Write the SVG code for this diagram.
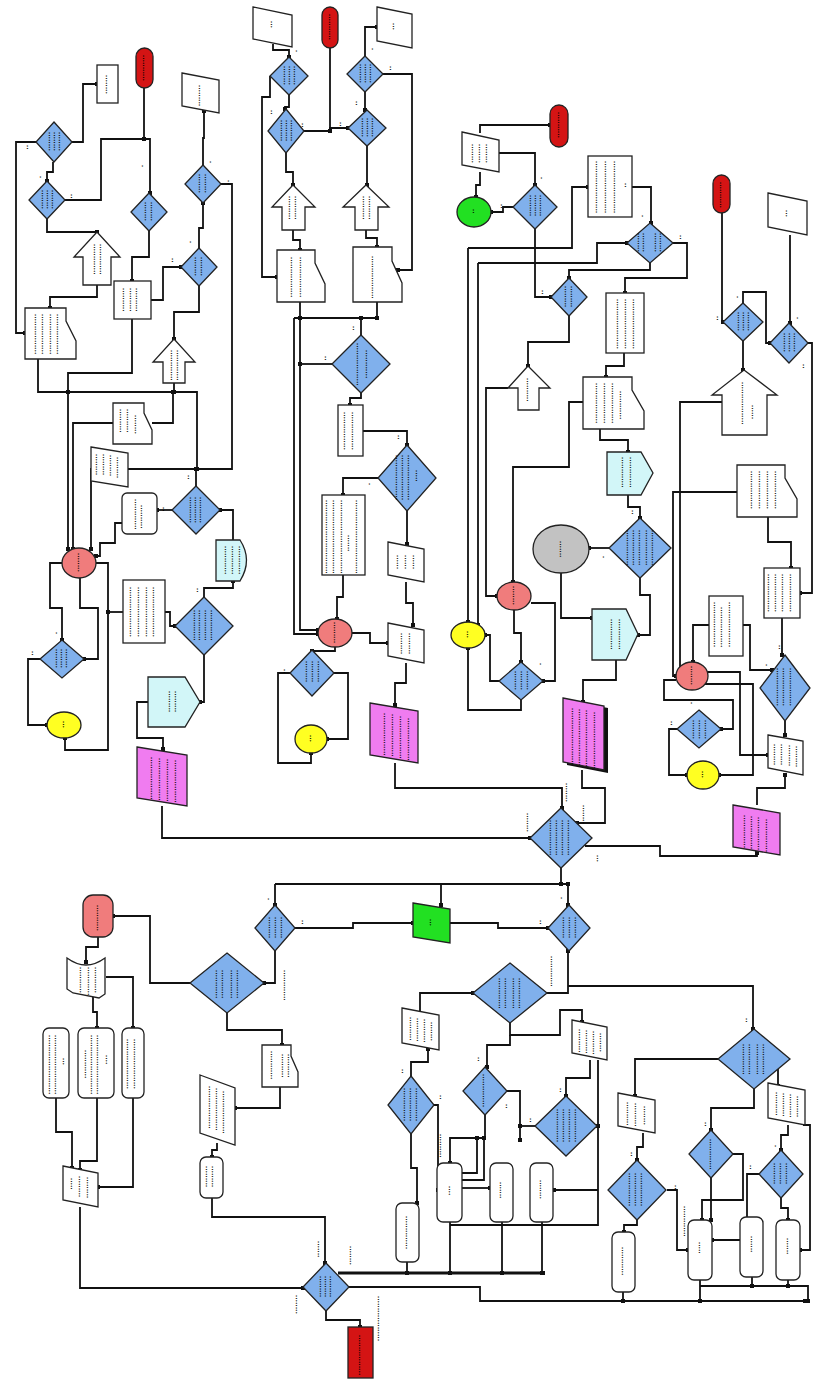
<svg xmlns="http://www.w3.org/2000/svg" width="815" height="1381" viewBox="0 0 815 1381">
<defs>
<style>
.c{fill:none;stroke:#111;stroke-width:1.8;stroke-linejoin:miter}
.k{fill:none;stroke:#111;stroke-width:3}
.n{stroke:#222;stroke-width:1.3}
.dia{fill:#80b0ec}
.w{fill:#fff}
.red{fill:#d41414}
.sal{fill:#f07c7c}
.yel{fill:#ffff22}
.grn{fill:#22e022}
.gry{fill:#c2c2c2}
.cyn{fill:#d2f6f8}
.mag{fill:#f07cf0}
.t{font-family:"Liberation Sans",Arial,sans-serif;font-size:7.5px;letter-spacing:0.3px;fill:#000;stroke:#000;stroke-width:0.3}
</style>
<marker id="m" markerWidth="4" markerHeight="4" refX="2" refY="2" markerUnits="userSpaceOnUse"><rect width="4" height="4" fill="#111"/></marker>
</defs>
<rect width="815" height="1381" fill="#fff"/>

<g id="connectors" marker-end="url(#m)">
<polyline class="c" points="72,142 83,142 83,84 97,84"/>
<polyline class="c" points="36,142 16,142 16,333 25,333"/>
<polyline class="c" points="53,162 53,172 47,172 47,181"/>
<polyline class="c" points="65,200 101,200 101,139 150,139 150,193"/>
<polyline class="c" points="144,88 144,139"/>
<polyline class="c" points="47,219 47,232 97,232"/>
<polyline class="c" points="97,285 97,297 50,297 50,308"/>
<polyline class="c" points="149,231 149,257 132,257 132,281"/>
<polyline class="c" points="151,300 163,300 163,267 181,267"/>
<polyline class="c" points="199,248 199,228 203,228 203,203"/>
<polyline class="c" points="203,165 203,138 204,138 204,111"/>
<polyline class="c" points="221,184 232,184 232,469 91,469 91,549"/>
<polyline class="c" points="199,286 199,312 174,312 174,339"/>
<polyline class="c" points="132,319 132,373 68,373 68,392"/>
<polyline class="c" points="38,359 38,392 197,392 197,469"/>
<polyline class="c" points="174,383 174,392"/>
<polyline class="c" points="152,423 173,423 173,392"/>
<polyline class="c" points="113,423 73,423 73,549"/>
<polyline class="c" points="68,392 68,549"/>
<polyline class="c" points="122,523 115,523 115,543 100,543 100,556 96,556"/>
<polyline class="c" points="96,563 108,563 108,750 65,750 65,738"/>
<polyline class="c" points="80,578 80,608 98,608 98,659 84,659"/>
<polyline class="c" points="62,563 50,563 50,608 62,608 62,640"/>
<polyline class="c" points="40,659 28,659 28,725 47,725"/>
<polyline class="c" points="123,612 108,612"/>
<polyline class="c" points="165,612 170,612 170,626 175,626"/>
<polyline class="c" points="204,597 204,588 233,588 233,581"/>
<polyline class="c" points="233,540 233,510 220,510"/>
<polyline class="c" points="172,510 157,510"/>
<polyline class="c" points="196,486 196,469"/>
<polyline class="c" points="204,655 204,702 200,702"/>
<polyline class="c" points="148,702 137,702 137,738 163,738 163,749"/>
<polyline class="c" points="162,806 162,838 530,838"/>
<polyline class="c" points="273,44 273,50 289,50 289,57"/>
<polyline class="c" points="270,76 270,97 262,97 262,277 277,277"/>
<polyline class="c" points="289,95 289,107 285,107 285,109"/>
<polyline class="c" points="304,131 330,131 330,128 348,128"/>
<polyline class="c" points="330,48 330,131"/>
<polyline class="c" points="286,153 286,172 293,172 293,185"/>
<polyline class="c" points="293,230 293,240 300,240 300,250"/>
<polyline class="c" points="300,302 300,318"/>
<polyline class="c" points="294,318 377,318"/>
<polyline class="c" points="377,302 377,318"/>
<polyline class="c" points="361,335 361,318"/>
<polyline class="c" points="332,364 300,364"/>
<polyline class="c" points="294,318 294,634 318,634"/>
<polyline class="c" points="300,318 300,630 318,630"/>
<polyline class="c" points="365,56 365,27 377,27"/>
<polyline class="c" points="383,74 412,74 412,270 398,270"/>
<polyline class="c" points="365,92 365,110"/>
<polyline class="c" points="367,146 367,185"/>
<polyline class="c" points="366,230 366,238 377,238 377,247"/>
<polyline class="c" points="361,393 361,398 350,398 350,405"/>
<polyline class="c" points="363,431 407,431 407,445"/>
<polyline class="c" points="378,478 343,478 343,495"/>
<polyline class="c" points="407,511 407,544"/>
<polyline class="c" points="406,582 406,603 413,603 413,625"/>
<polyline class="c" points="343,575 343,597 337,597 337,619"/>
<polyline class="c" points="352,633 370,633 370,643 388,643"/>
<polyline class="c" points="335,647 335,651 312,651"/>
<polyline class="c" points="290,673 278,673 278,763 311,763 311,753"/>
<polyline class="c" points="334,673 348,673 348,739 327,739"/>
<polyline class="c" points="406,663 406,683 395,683 395,705"/>
<polyline class="c" points="395,763 395,788 562,788 562,808"/>
<polyline class="c" points="480,133 480,125 550,125"/>
<polyline class="c" points="499,153 535,153 535,185"/>
<polyline class="c" points="480,172 480,185 476,185 476,197"/>
<polyline class="c" points="513,207 503,207 503,212 491,212"/>
<polyline class="c" points="535,229 535,297 551,297"/>
<polyline class="c" points="468,248 572,248 572,187 588,187"/>
<polyline class="c" points="468,248 468,622"/>
<polyline class="c" points="478,263 597,263 597,243 627,243"/>
<polyline class="c" points="478,263 478,625"/>
<polyline class="c" points="632,187 651,187 651,223"/>
<polyline class="c" points="673,243 687,243 687,278 625,278 625,293"/>
<polyline class="c" points="650,263 650,270 569,270 569,278"/>
<polyline class="c" points="569,316 569,342 528,342 528,366"/>
<polyline class="c" points="508,388 486,388 486,596 497,596"/>
<polyline class="c" points="624,353 624,366 606,366 606,377"/>
<polyline class="c" points="583,402 569,402 569,467 513,467 513,582"/>
<polyline class="c" points="600,429 600,440 628,440 628,452"/>
<polyline class="c" points="628,495 628,507 640,507 640,518"/>
<polyline class="c" points="609,548 589,548"/>
<polyline class="c" points="640,578 640,595 650,595 650,635 638,635"/>
<polyline class="c" points="561,573 561,618 592,618"/>
<polyline class="c" points="616,660 616,680 583,680 583,702"/>
<polyline class="c" points="531,603 555,603 555,681 543,681"/>
<polyline class="c" points="514,610 514,633 521,633 521,662"/>
<polyline class="c" points="499,681 490,681 490,635 485,635"/>
<polyline class="c" points="521,700 521,710 468,710 468,648"/>
<polyline class="c" points="582,770 582,788 605,788 605,823 577,823"/>
<polyline class="c" points="722,213 722,322 723,322"/>
<polyline class="c" points="743,303 743,292 766,292 766,343 770,343"/>
<polyline class="c" points="790,235 790,323"/>
<polyline class="c" points="808,343 812,343 812,593 800,593"/>
<polyline class="c" points="743,341 743,370"/>
<polyline class="c" points="722,402 680,402 680,676"/>
<polyline class="c" points="737,492 673,492 673,676 676,676"/>
<polyline class="c" points="768,517 768,542 791,542 791,568"/>
<polyline class="c" points="782,618 782,655"/>
<polyline class="c" points="709,625 693,625 693,662"/>
<polyline class="c" points="743,625 750,625 750,670 772,670"/>
<polyline class="c" points="707,672 740,672 740,755 768,755"/>
<polyline class="c" points="705,684 753,684 753,775 719,775"/>
<polyline class="c" points="676,680 664,680 664,700 733,700 733,729 721,729"/>
<polyline class="c" points="677,729 669,729 669,775 687,775"/>
<polyline class="c" points="785,721 785,735"/>
<polyline class="c" points="757,805 757,788 785,788 785,775"/>
<polyline class="c" points="585,846 660,846 660,856 757,856 757,853"/>
<polyline class="c" points="561,868 561,884"/>
<polyline class="c" points="275,884 568,884"/>
<polyline class="c" points="275,884 275,905"/>
<polyline class="c" points="441,884 441,905"/>
<polyline class="c" points="568,884 568,905"/>
<polyline class="c" points="295,928 353,928 353,923 413,923"/>
<polyline class="c" points="450,923 498,923 498,928 548,928"/>
<polyline class="c" points="275,951 275,983 264,983"/>
<polyline class="c" points="190,983 150,983 150,916 113,916"/>
<polyline class="c" points="227,1013 227,1030 282,1030 282,1045"/>
<polyline class="c" points="280,1087 280,1108 235,1108"/>
<polyline class="c" points="217,1143 217,1150 212,1150 212,1157"/>
<polyline class="c" points="212,1198 212,1217 325,1217 325,1263"/>
<polyline class="c" points="98,937 98,947 86,947 86,962"/>
<polyline class="c" points="106,977 133,977 133,1028"/>
<polyline class="c" points="93,997 93,1012 97,1012 97,1028"/>
<polyline class="c" points="56,1098 56,1132 72,1132 72,1168"/>
<polyline class="c" points="97,1098 97,1161 80,1161 80,1170"/>
<polyline class="c" points="133,1098 133,1187 98,1187"/>
<polyline class="c" points="80,1207 80,1288 303,1288"/>
<polyline class="c" points="326,1311 326,1320 360,1320 360,1327"/>
<polyline class="c" points="349,1287 480,1287 480,1301 805,1301"/>
<polyline class="k" points="338,1273 543,1273"/>
<polyline class="c" points="407,1262 407,1273"/>
<polyline class="c" points="450,1222 450,1273"/>
<polyline class="c" points="502,1222 502,1273"/>
<polyline class="c" points="542,1222 542,1273"/>
<polyline class="c" points="450,1225 598,1225 598,1126 597,1126"/>
<polyline class="c" points="598,1060 598,1126"/>
<polyline class="c" points="598,1190 554,1190"/>
<polyline class="c" points="411,1134 411,1168 417,1168 417,1203"/>
<polyline class="c" points="411,1076 411,1062 428,1062 428,1049"/>
<polyline class="c" points="420,1011 420,993 473,993"/>
<polyline class="c" points="547,993 568,993 568,951"/>
<polyline class="c" points="568,986 753,986 753,1029"/>
<polyline class="c" points="510,1023 510,1035 560,1035 560,1010 582,1010 582,1022"/>
<polyline class="c" points="510,1035 510,1045 487,1045 487,1067"/>
<polyline class="c" points="590,1060 590,1078 566,1078 566,1096"/>
<polyline class="c" points="507,1091 520,1091 520,1140"/>
<polyline class="c" points="485,1115 485,1138 450,1138 450,1163"/>
<polyline class="c" points="535,1126 520,1126"/>
<polyline class="c" points="462,1173 477,1173 477,1138"/>
<polyline class="c" points="462,1180 484,1180 484,1138"/>
<polyline class="c" points="462,1188 490,1188"/>
<polyline class="c" points="434,1105 438,1105 438,1190"/>
<polyline class="c" points="718,1059 635,1059 635,1096"/>
<polyline class="c" points="790,1059 778,1059 778,1086"/>
<polyline class="c" points="754,1089 754,1108 711,1108 711,1130"/>
<polyline class="c" points="643,1133 643,1147 637,1147 637,1160"/>
<polyline class="c" points="637,1220 637,1225 624,1225 624,1232"/>
<polyline class="c" points="667,1190 677,1190 677,1250 688,1250"/>
<polyline class="c" points="623,1292 623,1301"/>
<polyline class="c" points="733,1154 743,1154 743,1200 702,1200 702,1220"/>
<polyline class="c" points="711,1178 711,1220"/>
<polyline class="c" points="759,1174 747,1174 747,1240 712,1240"/>
<polyline class="c" points="788,1125 788,1135 781,1135 781,1150"/>
<polyline class="c" points="803,1125 810,1125 810,1250 800,1250"/>
<polyline class="c" points="781,1198 781,1208 788,1208 788,1220"/>
<polyline class="c" points="700,1280 700,1301"/>
<polyline class="c" points="700,1286 808,1286 808,1301"/>
<polyline class="c" points="752,1277 752,1286"/>
<polyline class="c" points="788,1280 788,1286"/>
</g>

<g id="d1"><polygon class="n dia" points="54,122 72,142 54,162 36,142"/><text class="t" transform="translate(49 132) rotate(90)">........</text><text class="t" transform="translate(54 132) rotate(90)">........</text><text class="t" transform="translate(59 132) rotate(90)">........</text></g>
<g id="d2"><polygon class="n dia" points="47,181 65,200 47,219 29,200"/><text class="t" transform="translate(42 190) rotate(90)">........</text><text class="t" transform="translate(47 190) rotate(90)">........</text><text class="t" transform="translate(52 190) rotate(90)">........</text></g>
<g id="d3"><polygon class="n dia" points="149,193 167,212 149,231 131,212"/><text class="t" transform="translate(145 202) rotate(90)">........</text><text class="t" transform="translate(151 202) rotate(90)">........</text></g>
<g id="d4"><polygon class="n dia" points="203,165 221,184 203,203 185,184"/><text class="t" transform="translate(199 174) rotate(90)">........</text><text class="t" transform="translate(205 174) rotate(90)">........</text></g>
<g id="d5"><polygon class="n dia" points="199,248 217,267 199,286 181,267"/><text class="t" transform="translate(195 257) rotate(90)">........</text><text class="t" transform="translate(201 257) rotate(90)">........</text></g>
<g id="d6"><polygon class="n dia" points="196,486 220,510 196,534 172,510"/><text class="t" transform="translate(190 497) rotate(90)">...........</text><text class="t" transform="translate(195 497) rotate(90)">...........</text><text class="t" transform="translate(200 497) rotate(90)">...........</text></g>
<g id="d7"><polygon class="n dia" points="204,597 233,626 204,655 175,626"/><text class="t" transform="translate(194 610) rotate(90)">.............</text><text class="t" transform="translate(199 610) rotate(90)">.............</text><text class="t" transform="translate(205 610) rotate(90)">.............</text><text class="t" transform="translate(211 610) rotate(90)">.............</text></g>
<g id="d8"><polygon class="n dia" points="62,640 84,659 62,678 40,659"/><text class="t" transform="translate(56 649) rotate(90)">........</text><text class="t" transform="translate(61 649) rotate(90)">........</text><text class="t" transform="translate(66 649) rotate(90)">........</text></g>
<g id="d9"><polygon class="n dia" points="289,57 308,76 289,95 270,76"/><text class="t" transform="translate(284 66) rotate(90)">........</text><text class="t" transform="translate(289 66) rotate(90)">........</text><text class="t" transform="translate(294 66) rotate(90)">........</text></g>
<g id="d10"><polygon class="n dia" points="286,109 304,131 286,153 268,131"/><text class="t" transform="translate(281 120) rotate(90)">.........</text><text class="t" transform="translate(286 120) rotate(90)">.........</text><text class="t" transform="translate(291 120) rotate(90)">.........</text></g>
<g id="d11"><polygon class="n dia" points="365,56 383,74 365,92 347,74"/><text class="t" transform="translate(360 64) rotate(90)">........</text><text class="t" transform="translate(365 64) rotate(90)">........</text><text class="t" transform="translate(370 64) rotate(90)">........</text></g>
<g id="d12"><polygon class="n dia" points="367,110 386,128 367,146 348,128"/><text class="t" transform="translate(362 118) rotate(90)">........</text><text class="t" transform="translate(367 118) rotate(90)">........</text><text class="t" transform="translate(372 118) rotate(90)">........</text></g>
<g id="d13"><polygon class="n dia" points="361,335 390,364 361,393 332,364"/><text class="t" transform="translate(357 343) rotate(90)">..................</text><text class="t" transform="translate(366 350) rotate(90)">............</text></g>
<g id="d14"><polygon class="n dia" points="407,445 436,478 407,511 378,478"/><text class="t" transform="translate(396 455) rotate(90)">...................</text><text class="t" transform="translate(402 455) rotate(90)">...................</text><text class="t" transform="translate(408 455) rotate(90)">...................</text><text class="t" transform="translate(416 470) rotate(90)">.....</text></g>
<g id="d15"><polygon class="n dia" points="312,650 334,673 312,696 290,673"/><text class="t" transform="translate(306 661) rotate(90)">.........</text><text class="t" transform="translate(312 661) rotate(90)">.........</text><text class="t" transform="translate(318 661) rotate(90)">.........</text></g>
<g id="d16"><polygon class="n dia" points="535,185 557,207 535,229 513,207"/><text class="t" transform="translate(530 195) rotate(90)">.........</text><text class="t" transform="translate(535 195) rotate(90)">.........</text><text class="t" transform="translate(540 195) rotate(90)">.........</text></g>
<g id="d17"><polygon class="n dia" points="650,223 673,243 650,263 627,243"/><text class="t" transform="translate(638 233) rotate(90)">........</text><text class="t" transform="translate(643 233) rotate(90)">........</text><text class="t" transform="translate(655 233) rotate(90)">........</text><text class="t" transform="translate(660 233) rotate(90)">........</text></g>
<g id="d18"><polygon class="n dia" points="569,278 587,297 569,316 551,297"/><text class="t" transform="translate(565 286) rotate(90)">.........</text><text class="t" transform="translate(571 286) rotate(90)">.........</text></g>
<g id="d19"><polygon class="n dia" points="640,518 671,548 640,578 609,548"/><text class="t" transform="translate(627 530) rotate(90)">...............</text><text class="t" transform="translate(633 530) rotate(90)">...............</text><text class="t" transform="translate(639 530) rotate(90)">...............</text><text class="t" transform="translate(646 530) rotate(90)">...............</text><text class="t" transform="translate(652 530) rotate(90)">...............</text></g>
<g id="d20"><polygon class="n dia" points="521,662 543,681 521,700 499,681"/><text class="t" transform="translate(515 671) rotate(90)">........</text><text class="t" transform="translate(521 671) rotate(90)">........</text><text class="t" transform="translate(527 671) rotate(90)">........</text></g>
<g id="d21"><polygon class="n dia" points="743,303 763,322 743,341 723,322"/><text class="t" transform="translate(738 312) rotate(90)">........</text><text class="t" transform="translate(743 312) rotate(90)">........</text><text class="t" transform="translate(748 312) rotate(90)">........</text></g>
<g id="d22"><polygon class="n dia" points="789,323 808,343 789,363 770,343"/><text class="t" transform="translate(784 333) rotate(90)">........</text><text class="t" transform="translate(789 333) rotate(90)">........</text><text class="t" transform="translate(794 333) rotate(90)">........</text></g>
<g id="d23"><polygon class="n dia" points="785,655 810,688 785,721 760,688"/><text class="t" transform="translate(777 668) rotate(90)">................</text><text class="t" transform="translate(783 668) rotate(90)">................</text><text class="t" transform="translate(790 668) rotate(90)">................</text></g>
<g id="d24"><polygon class="n dia" points="699,710 721,729 699,748 677,729"/><text class="t" transform="translate(693 720) rotate(90)">........</text><text class="t" transform="translate(699 720) rotate(90)">........</text><text class="t" transform="translate(705 720) rotate(90)">........</text></g>
<g id="d25"><polygon class="n dia" points="561,808 592,838 561,868 530,838"/><text class="t" transform="translate(550 820) rotate(90)">...............</text><text class="t" transform="translate(556 820) rotate(90)">...............</text><text class="t" transform="translate(562 820) rotate(90)">...............</text><text class="t" transform="translate(568 820) rotate(90)">...............</text></g>
<g id="d26"><polygon class="n dia" points="275,905 295,928 275,951 255,928"/><text class="t" transform="translate(269 917) rotate(90)">.........</text><text class="t" transform="translate(275 917) rotate(90)">.........</text><text class="t" transform="translate(281 917) rotate(90)">.........</text></g>
<g id="d27"><polygon class="n dia" points="569,905 590,928 569,951 548,928"/><text class="t" transform="translate(563 917) rotate(90)">.........</text><text class="t" transform="translate(569 917) rotate(90)">.........</text><text class="t" transform="translate(575 917) rotate(90)">.........</text></g>
<g id="d28"><polygon class="n dia" points="227,953 264,983 227,1013 190,983"/><text class="t" transform="translate(216 970) rotate(90)">............</text><text class="t" transform="translate(222 970) rotate(90)">............</text><text class="t" transform="translate(231 970) rotate(90)">............</text><text class="t" transform="translate(237 970) rotate(90)">............</text></g>
<g id="d29"><polygon class="n dia" points="510,963 547,993 510,1023 473,993"/><text class="t" transform="translate(499 978) rotate(90)">.............</text><text class="t" transform="translate(505 978) rotate(90)">.............</text><text class="t" transform="translate(513 978) rotate(90)">.............</text><text class="t" transform="translate(519 978) rotate(90)">.............</text></g>
<g id="d30"><polygon class="n dia" points="411,1076 434,1105 411,1134 388,1105"/><text class="t" transform="translate(404 1088) rotate(90)">..............</text><text class="t" transform="translate(410 1088) rotate(90)">..............</text><text class="t" transform="translate(416 1088) rotate(90)">..............</text></g>
<g id="d31"><polygon class="n dia" points="485,1067 507,1091 485,1115 463,1091"/><text class="t" transform="translate(483 1074) rotate(90)">..............</text></g>
<g id="d32"><polygon class="n dia" points="566,1096 597,1126 566,1156 535,1126"/><text class="t" transform="translate(557 1109) rotate(90)">..............</text><text class="t" transform="translate(563 1109) rotate(90)">..............</text><text class="t" transform="translate(569 1109) rotate(90)">..............</text><text class="t" transform="translate(575 1109) rotate(90)">..............</text></g>
<g id="d33"><polygon class="n dia" points="754,1029 790,1059 754,1089 718,1059"/><text class="t" transform="translate(743 1044) rotate(90)">.............</text><text class="t" transform="translate(749 1044) rotate(90)">.............</text><text class="t" transform="translate(757 1044) rotate(90)">.............</text><text class="t" transform="translate(763 1044) rotate(90)">.............</text></g>
<g id="d34"><polygon class="n dia" points="711,1130 733,1154 711,1178 689,1154"/><text class="t" transform="translate(710 1139) rotate(90)">.............</text></g>
<g id="d35"><polygon class="n dia" points="637,1160 666,1190 637,1220 608,1190"/><text class="t" transform="translate(629 1173) rotate(90)">..............</text><text class="t" transform="translate(635 1173) rotate(90)">..............</text><text class="t" transform="translate(641 1173) rotate(90)">..............</text></g>
<g id="d36"><polygon class="n dia" points="781,1150 803,1174 781,1198 759,1174"/><text class="t" transform="translate(774 1163) rotate(90)">.........</text><text class="t" transform="translate(780 1163) rotate(90)">.........</text><text class="t" transform="translate(786 1163) rotate(90)">.........</text></g>
<g id="d37"><polygon class="n dia" points="326,1263 349,1287 326,1311 303,1287"/><text class="t" transform="translate(320 1276) rotate(90)">.........</text><text class="t" transform="translate(325 1276) rotate(90)">.........</text><text class="t" transform="translate(330 1276) rotate(90)">.........</text></g>

<g id="t1"><rect class="n red" x="136" y="48" width="17" height="40" rx="8.5"/><text class="t" transform="translate(143 55) rotate(90)">...........</text></g>
<g id="t2"><rect class="n red" x="322" y="7" width="16" height="41" rx="8"/><text class="t" transform="translate(329 14) rotate(90)">...........</text></g>
<g id="t3"><rect class="n red" x="550" y="105" width="18" height="42" rx="9"/><text class="t" transform="translate(558 112) rotate(90)">...........</text></g>
<g id="t4"><rect class="n red" x="713" y="175" width="17" height="38" rx="8.5"/><text class="t" transform="translate(720 182) rotate(90)">...........</text></g>
<g id="t5"><rect class="n sal" x="83" y="895" width="30" height="42" rx="10"/><text class="t" transform="translate(97 905) rotate(90)">...........</text></g>
<g id="t6"><rect class="n red" x="348" y="1327" width="25" height="51"/><text class="t" transform="translate(359 1335) rotate(90)">.................</text></g>

<g id="r1"><rect class="n w" x="97" y="65" width="21" height="38"/><text class="t" transform="translate(106 75) rotate(90)">........</text></g>
<g id="r2"><rect class="n w" x="114" y="281" width="37" height="38"/><text class="t" transform="translate(123 288) rotate(90)">..........</text><text class="t" transform="translate(130 288) rotate(90)">..........</text><text class="t" transform="translate(136 288) rotate(90)">..........</text></g>
<g id="r3"><rect class="n w" x="123" y="580" width="42" height="63"/><text class="t" transform="translate(130 587) rotate(90)">.....................</text><text class="t" transform="translate(138 587) rotate(90)">.....................</text><text class="t" transform="translate(146 587) rotate(90)">.....................</text><text class="t" transform="translate(153 587) rotate(90)">.....................</text></g>
<g id="r4"><rect class="n w" x="338" y="405" width="25" height="51"/><text class="t" transform="translate(344 412) rotate(90)">................</text><text class="t" transform="translate(352 412) rotate(90)">................</text></g>
<g id="r5"><rect class="n w" x="322" y="495" width="43" height="80"/><text class="t" transform="translate(326 500) rotate(90)">...............................</text><text class="t" transform="translate(333 500) rotate(90)">...............................</text><text class="t" transform="translate(341 500) rotate(90)">...............................</text><text class="t" transform="translate(348 535) rotate(90)">.......</text><text class="t" transform="translate(356 500) rotate(90)">...............................</text></g>
<g id="r6"><rect class="n w" x="588" y="156" width="44" height="61"/><text class="t" transform="translate(596 161) rotate(90)">......................</text><text class="t" transform="translate(605 161) rotate(90)">......................</text><text class="t" transform="translate(614 161) rotate(90)">......................</text></g>
<g id="r7"><rect class="n w" x="606" y="293" width="38" height="60"/><text class="t" transform="translate(617 299) rotate(90)">.....................</text><text class="t" transform="translate(625 299) rotate(90)">.....................</text><text class="t" transform="translate(633 299) rotate(90)">.....................</text></g>
<g id="r8"><rect class="n w" x="764" y="568" width="36" height="50"/><text class="t" transform="translate(768 574) rotate(90)">................</text><text class="t" transform="translate(775 574) rotate(90)">................</text><text class="t" transform="translate(782 574) rotate(90)">................</text><text class="t" transform="translate(790 574) rotate(90)">................</text></g>
<g id="r9"><rect class="n w" x="709" y="596" width="34" height="60"/><text class="t" transform="translate(714 602) rotate(90)">...................</text><text class="t" transform="translate(721 607) rotate(90)">.................</text><text class="t" transform="translate(729 602) rotate(90)">...................</text></g>

<g id="s1"><polygon class="n w" points="182,73 219,80 219,113 182,106"/><text class="t" transform="translate(199 85) rotate(90)">.........</text></g>
<g id="s2"><polygon class="n w" points="253,7 292,15 292,47 253,39"/><text class="t" transform="translate(271 21) rotate(90)">...</text></g>
<g id="s3"><polygon class="n w" points="377,7 412,14 412,48 377,41"/><text class="t" transform="translate(393 23) rotate(90)">...</text></g>
<g id="s4"><polygon class="n w" points="462,132 499,140 499,172 462,165"/><text class="t" transform="translate(472 144) rotate(90)">........</text><text class="t" transform="translate(479 144) rotate(90)">........</text><text class="t" transform="translate(486 144) rotate(90)">........</text></g>
<g id="s5"><polygon class="n w" points="768,193 807,201 807,235 768,227"/><text class="t" transform="translate(786 210) rotate(90)">...</text></g>
<g id="s6"><polygon class="n w" points="91,447 128,453 128,487 91,481"/><text class="t" transform="translate(96 454) rotate(90)">.........</text><text class="t" transform="translate(103 454) rotate(90)">.........</text><text class="t" transform="translate(110 455) rotate(90)">.........</text><text class="t" transform="translate(117 457) rotate(90)">.........</text></g>
<g id="s7"><polygon class="n w" points="388,542 424,549 424,582 388,575"/><text class="t" transform="translate(397 555) rotate(90)">......</text><text class="t" transform="translate(405 555) rotate(90)">......</text><text class="t" transform="translate(413 555) rotate(90)">......</text></g>
<g id="s8"><polygon class="n w" points="388,623 424,630 424,663 388,656"/><text class="t" transform="translate(401 633) rotate(90)">.........</text><text class="t" transform="translate(409 633) rotate(90)">.........</text></g>
<g id="s9"><polygon class="n w" points="768,735 803,741 803,775 768,768"/><text class="t" transform="translate(774 744) rotate(90)">.........</text><text class="t" transform="translate(781 744) rotate(90)">.........</text><text class="t" transform="translate(789 745) rotate(90)">.........</text><text class="t" transform="translate(796 746) rotate(90)">.........</text></g>
<g id="s10"><polygon class="n w" points="402,1008 439,1015 439,1050 402,1043"/><text class="t" transform="translate(410 1017) rotate(90)">..........</text><text class="t" transform="translate(417 1018) rotate(90)">..........</text><text class="t" transform="translate(424 1019) rotate(90)">..........</text><text class="t" transform="translate(431 1022) rotate(90)">........</text></g>
<g id="s11"><polygon class="n w" points="572,1020 607,1027 607,1060 572,1053"/><text class="t" transform="translate(579 1029) rotate(90)">..........</text><text class="t" transform="translate(586 1030) rotate(90)">..........</text><text class="t" transform="translate(593 1031) rotate(90)">..........</text><text class="t" transform="translate(600 1033) rotate(90)">........</text></g>
<g id="s12"><polygon class="n w" points="618,1093 655,1100 655,1133 618,1126"/><text class="t" transform="translate(627 1102) rotate(90)">..........</text><text class="t" transform="translate(635 1103) rotate(90)">..........</text><text class="t" transform="translate(644 1106) rotate(90)">........</text></g>
<g id="s13"><polygon class="n w" points="768,1083 805,1090 805,1125 768,1118"/><text class="t" transform="translate(776 1092) rotate(90)">..........</text><text class="t" transform="translate(783 1093) rotate(90)">..........</text><text class="t" transform="translate(790 1094) rotate(90)">..........</text><text class="t" transform="translate(797 1096) rotate(90)">.........</text></g>
<g id="s14"><polygon class="n w" points="200,1075 235,1088 235,1145 200,1133"/><text class="t" transform="translate(209 1086) rotate(90)">..................</text><text class="t" transform="translate(216 1088) rotate(90)">..................</text><text class="t" transform="translate(223 1091) rotate(90)">..................</text></g>
<g id="s15"><polygon class="n w" points="63,1166 98,1173 98,1207 63,1200"/><text class="t" transform="translate(71 1178) rotate(90)">.....</text><text class="t" transform="translate(79 1176) rotate(90)">.........</text><text class="t" transform="translate(87 1177) rotate(90)">.........</text></g>
<g id="g1"><polygon class="n grn" points="413,903 450,909 450,943 413,937"/><text class="t" transform="translate(430 919) rotate(90)">...</text></g>

<g id="p1"><polygon class="n mag" points="137,747 187,755 187,806 137,798"/><text class="t" transform="translate(151 757) rotate(90)">..................</text><text class="t" transform="translate(159 758) rotate(90)">..................</text><text class="t" transform="translate(167 759) rotate(90)">..................</text><text class="t" transform="translate(175 760) rotate(90)">..................</text></g>
<g id="p2"><polygon class="n mag" points="370,703 418,711 418,763 370,755"/><text class="t" transform="translate(384 713) rotate(90)">..................</text><text class="t" transform="translate(392 714) rotate(90)">..................</text><text class="t" transform="translate(400 716) rotate(90)">..................</text><text class="t" transform="translate(408 718) rotate(90)">..................</text></g>
<g id="p3"><polygon fill="#111" points="567,700 608,708 608,773 567,765"/><polygon class="n mag" points="563,698 604,706 604,770 563,762"/><text class="t" transform="translate(572 708) rotate(90)">........................</text><text class="t" transform="translate(579 709) rotate(90)">........................</text><text class="t" transform="translate(586 710) rotate(90)">........................</text><text class="t" transform="translate(594 712) rotate(90)">........................</text></g>
<g id="p4"><polygon class="n mag" points="733,805 780,813 780,855 733,847"/><text class="t" transform="translate(744 815) rotate(90)">..............</text><text class="t" transform="translate(751 816) rotate(90)">..............</text><text class="t" transform="translate(758 817) rotate(90)">..............</text><text class="t" transform="translate(766 819) rotate(90)">..............</text></g>

<g id="k1"><polygon class="n w" points="25,308 66,308 66,321 76,341 76,359 25,359"/><text class="t" transform="translate(35 314) rotate(90)">.................</text><text class="t" transform="translate(42 314) rotate(90)">.................</text><text class="t" transform="translate(50 314) rotate(90)">.................</text><text class="t" transform="translate(57 314) rotate(90)">.................</text></g>
<g id="k2"><polygon class="n w" points="277,250 315,250 315,263 325,284 325,302 277,302"/><text class="t" transform="translate(291 257) rotate(90)">.................</text><text class="t" transform="translate(300 257) rotate(90)">.................</text></g>
<g id="k3"><polygon class="n w" points="353,247 392,247 392,261 402,283 402,302 353,302"/><text class="t" transform="translate(372 256) rotate(90)">..................</text></g>
<g id="k4"><polygon class="n w" points="113,403 144,403 144,413 152,430 152,444 113,444"/><text class="t" transform="translate(120 409) rotate(90)">..........</text><text class="t" transform="translate(127 409) rotate(90)">..........</text><text class="t" transform="translate(135 415) rotate(90)">........</text></g>
<g id="k5"><polygon class="n w" points="583,377 632,377 632,390 644,411 644,429 583,429"/><text class="t" transform="translate(596 383) rotate(90)">.................</text><text class="t" transform="translate(604 383) rotate(90)">.................</text><text class="t" transform="translate(612 383) rotate(90)">.................</text><text class="t" transform="translate(620 391) rotate(90)">............</text></g>
<g id="k6"><polygon class="n w" points="737,465 785,465 785,478 797,499 797,517 737,517"/><text class="t" transform="translate(751 471) rotate(90)">................</text><text class="t" transform="translate(759 471) rotate(90)">................</text><text class="t" transform="translate(767 471) rotate(90)">................</text><text class="t" transform="translate(775 471) rotate(90)">................</text></g>
<g id="k7"><polygon class="n w" points="262,1045 291,1045 291,1056 298,1072 298,1087 262,1087"/><text class="t" transform="translate(271 1051) rotate(90)">............</text><text class="t" transform="translate(282 1054) rotate(90)">..........</text><text class="t" transform="translate(288 1054) rotate(90)">..........</text></g>

<g id="a1"><polygon class="n w" points="97,232 120,257 111,257 111,285 83,285 83,257 74,257"/><text class="t" transform="translate(94 244) rotate(90)">.............</text><text class="t" transform="translate(100 244) rotate(90)">.............</text></g>
<g id="a2"><polygon class="n w" points="174,339 195,362 185,362 185,383 163,383 163,362 153,362"/><text class="t" transform="translate(171 350) rotate(90)">.............</text><text class="t" transform="translate(177 350) rotate(90)">.............</text></g>
<g id="a3"><polygon class="n w" points="293,185 315,207 305,207 305,230 282,230 282,207 272,207"/><text class="t" transform="translate(289 196) rotate(90)">..........</text><text class="t" transform="translate(295 196) rotate(90)">..........</text></g>
<g id="a4"><polygon class="n w" points="366,185 389,207 378,207 378,230 355,230 355,207 343,207"/><text class="t" transform="translate(363 196) rotate(90)">..........</text><text class="t" transform="translate(369 196) rotate(90)">..........</text></g>
<g id="a5"><polygon class="n w" points="528,366 550,388 539,388 539,410 518,410 518,388 508,388"/><text class="t" transform="translate(527 378) rotate(90)">..........</text></g>
<g id="a6"><polygon class="n w" points="744,370 777,395 767,395 767,435 722,435 722,395 712,395"/><text class="t" transform="translate(742 382) rotate(90)">..................</text><text class="t" transform="translate(752 405) rotate(90)">......</text></g>

<g id="c1"><ellipse class="n sal" cx="79" cy="563" rx="17" ry="15"/><text class="t" transform="translate(78 553) rotate(90)">........</text></g>
<g id="c2"><ellipse class="n sal" cx="335" cy="633" rx="17" ry="14"/><text class="t" transform="translate(334 622) rotate(90)">.........</text></g>
<g id="c3"><ellipse class="n sal" cx="514" cy="596" rx="17" ry="14"/><text class="t" transform="translate(513 586) rotate(90)">........</text></g>
<g id="c4"><ellipse class="n sal" cx="692" cy="676" rx="16" ry="14"/><text class="t" transform="translate(691 666) rotate(90)">........</text></g>
<g id="y1"><ellipse class="n yel" cx="64" cy="725" rx="17" ry="13"/><text class="t" transform="translate(63 721) rotate(90)">...</text></g>
<g id="y2"><ellipse class="n yel" cx="311" cy="739" rx="16" ry="14"/><text class="t" transform="translate(310 735) rotate(90)">...</text></g>
<g id="y3"><ellipse class="n yel" cx="468" cy="635" rx="17" ry="13"/><text class="t" transform="translate(467 631) rotate(90)">...</text></g>
<g id="y4"><ellipse class="n yel" cx="703" cy="775" rx="16" ry="14"/><text class="t" transform="translate(702 771) rotate(90)">...</text></g>
<g id="e1"><ellipse class="n grn" cx="474" cy="212" rx="17" ry="15"/><text class="t" transform="translate(473 209) rotate(90)">..</text></g>
<g id="e2"><ellipse class="n gry" cx="561" cy="549" rx="28" ry="24"/><text class="t" transform="translate(560 541) rotate(90)">.......</text></g>

<g id="v1"><path class="n cyn" d="M216,540 H240 Q253,560 240,581 H216 Z"/><text class="t" transform="translate(225 546) rotate(90)">............</text><text class="t" transform="translate(232 546) rotate(90)">............</text><text class="t" transform="translate(239 546) rotate(90)">............</text></g>
<g id="v2"><polygon class="n cyn" points="148,677 185,677 200,702 185,727 148,727"/><text class="t" transform="translate(169 691) rotate(90)">.........</text><text class="t" transform="translate(175 691) rotate(90)">.........</text></g>
<g id="v3"><polygon class="n cyn" points="607,452 641,452 653,473 641,495 607,495"/><text class="t" transform="translate(622 457) rotate(90)">.............</text><text class="t" transform="translate(630 457) rotate(90)">.............</text></g>
<g id="v4"><polygon class="n cyn" points="592,609 626,609 638,634 626,660 592,660"/><text class="t" transform="translate(611 619) rotate(90)">.............</text><text class="t" transform="translate(619 619) rotate(90)">.............</text></g>

<g id="u1"><rect class="n w" x="122" y="493" width="35" height="41" rx="5"/><text class="t" transform="translate(135 499) rotate(90)">.............</text><text class="t" transform="translate(141 505) rotate(90)">..........</text></g>
<g id="u2"><path class="n w" d="M67,958 Q86,972 105,958 V994 L99,998 L73,993 L67,989 Z"/><text class="t" transform="translate(80 967) rotate(90)">...........</text><text class="t" transform="translate(88 967) rotate(90)">............</text><text class="t" transform="translate(95 967) rotate(90)">...........</text></g>

<g id="q1"><rect class="n w" x="43" y="1028" width="26" height="70" rx="6"/><text class="t" transform="translate(49 1035) rotate(90)">.........................</text><text class="t" transform="translate(55 1035) rotate(90)">.........................</text><text class="t" transform="translate(63 1058) rotate(90)">...</text></g>
<g id="q2"><rect class="n w" x="78" y="1028" width="36" height="70" rx="6"/><text class="t" transform="translate(85 1050) rotate(90)">............</text><text class="t" transform="translate(91 1035) rotate(90)">.........................</text><text class="t" transform="translate(97 1035) rotate(90)">.........................</text><text class="t" transform="translate(106 1055) rotate(90)">....</text></g>
<g id="q3"><rect class="n w" x="122" y="1028" width="22" height="70" rx="6"/><text class="t" transform="translate(127 1039) rotate(90)">.....................</text><text class="t" transform="translate(134 1039) rotate(90)">.....................</text></g>
<g id="q4"><rect class="n w" x="200" y="1157" width="23" height="41" rx="6"/><text class="t" transform="translate(206 1166) rotate(90)">.........</text><text class="t" transform="translate(212 1166) rotate(90)">.........</text></g>
<g id="q5"><rect class="n w" x="396" y="1203" width="23" height="59" rx="6"/><text class="t" transform="translate(406 1216) rotate(90)">..............</text></g>
<g id="q6"><rect class="n w" x="437" y="1163" width="25" height="59" rx="6"/><text class="t" transform="translate(449 1186) rotate(90)">....</text></g>
<g id="q7"><rect class="n w" x="490" y="1163" width="23" height="59" rx="6"/><text class="t" transform="translate(500 1182) rotate(90)">.......</text></g>
<g id="q8"><rect class="n w" x="530" y="1163" width="23" height="59" rx="6"/><text class="t" transform="translate(540 1180) rotate(90)">........</text></g>
<g id="q9"><rect class="n w" x="612" y="1232" width="23" height="60" rx="6"/><text class="t" transform="translate(622 1247) rotate(90)">............</text></g>
<g id="q10"><rect class="n w" x="688" y="1220" width="24" height="60" rx="6"/><text class="t" transform="translate(699 1242) rotate(90)">.....</text></g>
<g id="q11"><rect class="n w" x="740" y="1217" width="23" height="60" rx="6"/><text class="t" transform="translate(751 1236) rotate(90)">.......</text></g>
<g id="q12"><rect class="n w" x="776" y="1220" width="24" height="60" rx="6"/><text class="t" transform="translate(787 1238) rotate(90)">.......</text></g>

<g id="labels">
<text class="t" transform="translate(27 145) rotate(90)">..</text>
<text class="t" transform="translate(40 176) rotate(90)">.</text>
<text class="t" transform="translate(71 194) rotate(90)">..</text>
<text class="t" transform="translate(142 165) rotate(90)">.</text>
<text class="t" transform="translate(210 161) rotate(90)">.</text>
<text class="t" transform="translate(228 180) rotate(90)">..</text>
<text class="t" transform="translate(190 241) rotate(90)">.</text>
<text class="t" transform="translate(172 258) rotate(90)">..</text>
<text class="t" transform="translate(296 50) rotate(90)">.</text>
<text class="t" transform="translate(302 123) rotate(90)">..</text>
<text class="t" transform="translate(271 110) rotate(90)">..</text>
<text class="t" transform="translate(372 48) rotate(90)">.</text>
<text class="t" transform="translate(390 66) rotate(90)">..</text>
<text class="t" transform="translate(356 101) rotate(90)">..</text>
<text class="t" transform="translate(340 122) rotate(90)">..</text>
<text class="t" transform="translate(353 326) rotate(90)">..</text>
<text class="t" transform="translate(325 356) rotate(90)">..</text>
<text class="t" transform="translate(541 177) rotate(90)">.</text>
<text class="t" transform="translate(501 204) rotate(90)">..</text>
<text class="t" transform="translate(542 290) rotate(90)">..</text>
<text class="t" transform="translate(642 215) rotate(90)">.</text>
<text class="t" transform="translate(680 235) rotate(90)">..</text>
<text class="t" transform="translate(625 183) rotate(90)">..</text>
<text class="t" transform="translate(737 296) rotate(90)">.</text>
<text class="t" transform="translate(717 316) rotate(90)">..</text>
<text class="t" transform="translate(797 317) rotate(90)">.</text>
<text class="t" transform="translate(803 364) rotate(90)">..</text>
<text class="t" transform="translate(188 475) rotate(90)">..</text>
<text class="t" transform="translate(163 507) rotate(90)">..</text>
<text class="t" transform="translate(197 588) rotate(90)">..</text>
<text class="t" transform="translate(56 632) rotate(90)">.</text>
<text class="t" transform="translate(32 651) rotate(90)">..</text>
<text class="t" transform="translate(398 435) rotate(90)">..</text>
<text class="t" transform="translate(369 483) rotate(90)">.</text>
<text class="t" transform="translate(284 669) rotate(90)">..</text>
<text class="t" transform="translate(632 510) rotate(90)">..</text>
<text class="t" transform="translate(603 556) rotate(90)">.</text>
<text class="t" transform="translate(540 663) rotate(90)">.</text>
<text class="t" transform="translate(779 645) rotate(90)">..</text>
<text class="t" transform="translate(766 664) rotate(90)">.</text>
<text class="t" transform="translate(691 702) rotate(90)">.</text>
<text class="t" transform="translate(671 721) rotate(90)">..</text>
<text class="t" transform="translate(527 813) rotate(90)">........</text>
<text class="t" transform="translate(566 783) rotate(90)">........</text>
<text class="t" transform="translate(583 805) rotate(90)">........</text>
<text class="t" transform="translate(597 855) rotate(90)">...</text>
<text class="t" transform="translate(268 898) rotate(90)">.</text>
<text class="t" transform="translate(302 920) rotate(90)">..</text>
<text class="t" transform="translate(561 897) rotate(90)">.</text>
<text class="t" transform="translate(540 920) rotate(90)">..</text>
<text class="t" transform="translate(551 956) rotate(90)">.............</text>
<text class="t" transform="translate(284 970) rotate(90)">.............</text>
<text class="t" transform="translate(402 1069) rotate(90)">..</text>
<text class="t" transform="translate(440 1095) rotate(90)">..</text>
<text class="t" transform="translate(478 1057) rotate(90)">..</text>
<text class="t" transform="translate(506 1104) rotate(90)">..</text>
<text class="t" transform="translate(560 1088) rotate(90)">..</text>
<text class="t" transform="translate(530 1118) rotate(90)">..</text>
<text class="t" transform="translate(746 1018) rotate(90)">..</text>
<text class="t" transform="translate(631 1152) rotate(90)">..</text>
<text class="t" transform="translate(675 1185) rotate(90)">..</text>
<text class="t" transform="translate(705 1122) rotate(90)">..</text>
<text class="t" transform="translate(775 1145) rotate(90)">.</text>
<text class="t" transform="translate(750 1165) rotate(90)">..</text>
<text class="t" transform="translate(684 1206) rotate(90)">.............</text>
<text class="t" transform="translate(318 1241) rotate(90)">.......</text>
<text class="t" transform="translate(350 1246) rotate(90)">........</text>
<text class="t" transform="translate(296 1295) rotate(90)">........</text>
<text class="t" transform="translate(378 1296) rotate(90)">...................</text>
<text class="t" transform="translate(440 1134) rotate(90)">..........</text>
</g>
</svg>
